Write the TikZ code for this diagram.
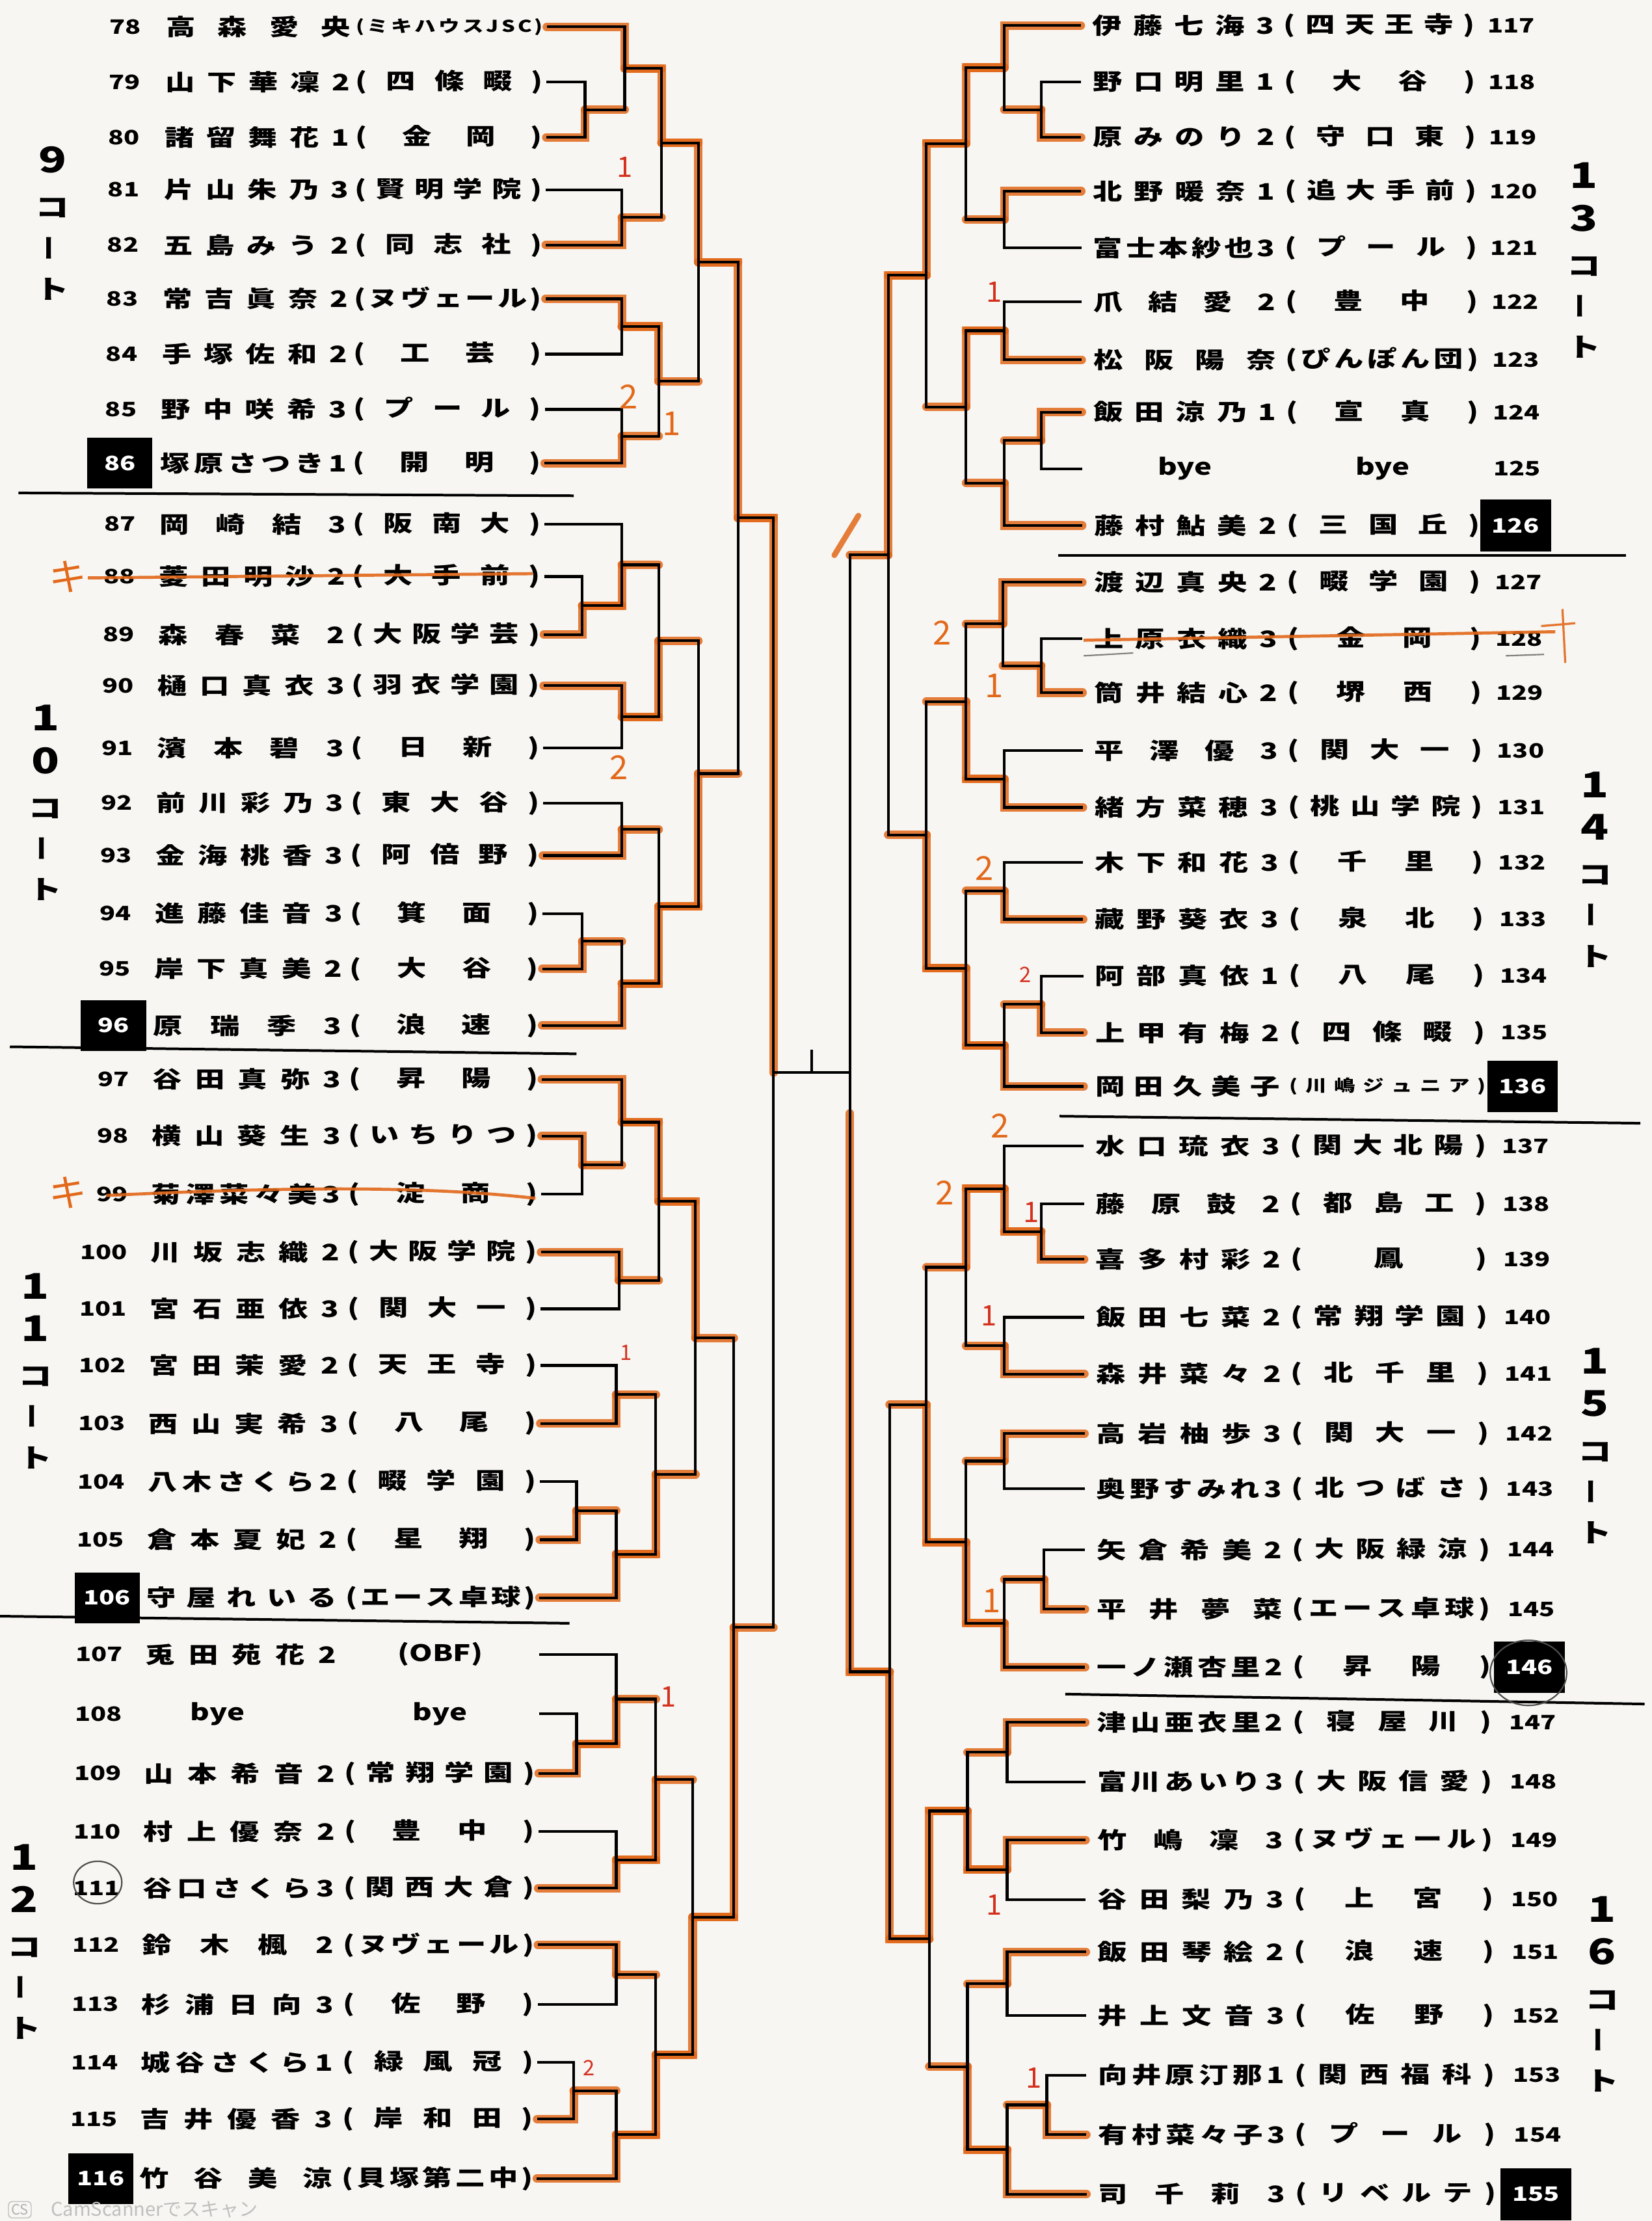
\documentclass[tikz,border=0pt]{standalone}
\usepackage{fontspec}
\usepackage{graphicx}
\setmainfont{Noto Sans CJK JP}
\usetikzlibrary{calc}

\pgfdeclarelayer{paper}
\pgfdeclarelayer{marker}
\pgfsetlayers{paper,marker,main}

\definecolor{paper}{RGB}{247,246,242}
\definecolor{mk}{RGB}{226,104,26}
\definecolor{pen}{RGB}{212,48,30}

\newcommand\cfont{\fontsize{6.9}{8}\selectfont}
\newcommand\wide[1]{\scalebox{1.3}[1]{#1}}

\ExplSyntaxOn
\cs_new_protected:Npn \sheet_spread:nn #1#2
  { \hbox_to_wd:nn {#1} { \tl_map_inline:nn {#2} { \wide{##1} \hfil } \unskip } }
\cs_new_protected:Npn \sheet_field:nn #1#2
  {
    \tl_if_head_eq_meaning:nNTF {#2} \cfont
      { \cfont \exp_args:Nnx \sheet_spread:nn {#1} { \tl_tail:n {#2} } }
      { \sheet_spread:nn {#1} {#2} }
  }
\NewDocumentCommand \spread { m m } { \exp_args:Nno \sheet_field:nn {#1} {#2} }
\ExplSyntaxOff

\makeatletter
\newcommand\hlin[2]{\expandafter\ifx\@car#1\@nil e\else
  \begin{pgfonlayer}{marker}\draw[hl] (#1) -- (#2,0 |- #1);\end{pgfonlayer}\fi}
\makeatother

\newcommand\bk[5]{%
  \coordinate (#4m) at ($(#1)!.5!(#2)$);
  \coordinate (#4) at (#3,0 |- #4m);
  \begin{pgfonlayer}{marker}
    \ifcase#5\or\draw[hl] (#1) -| (#4);\or\draw[hl] (#2) -| (#4);\fi
  \end{pgfonlayer}
  \hlin{#1}{#3}\hlin{#2}{#3}
  \draw[br] (#1) -| (#4) |- (#2);}

\newcommand\court[4]{%
  \foreach \d [count=\i from 0] in {#3}{
    \node[ctd] (#4-\i) at (#1,{#2+30*\i}) {\wide{\d}};
    \global\let\clast\i}
  \node[ctk] (#4-ko) at (#1,{#2+30*\clast+34}) {\wide{コ}};
  \node[ctk] (#4-bo) at (#1,{#2+30*\clast+62}) {\rotatebox{90}{ー}};
  \node[ctk] (#4-to) at (#1,{#2+30*\clast+91}) {\wide{ト}};}

\begin{document}
\begin{tikzpicture}[x=0.6pt, y=-0.6pt,
  br/.style={line width=1.15pt, black},
  hl/.style={line width=3.6pt, mk, opacity=.85, line cap=round},
  nm/.style={anchor=west, inner sep=0pt, font=\fontsize{9.6}{10}\selectfont\bfseries},
  Lplain/.style={anchor=east, inner sep=0pt, font=\fontsize{8.4}{9}\selectfont\bfseries},
  Lbox/.style={Lplain, fill=black, text=white, minimum width=27.6pt, minimum height=21.6pt, xshift=6.9pt},
  Rplain/.style={anchor=west, inner sep=0pt, font=\fontsize{8.4}{9}\selectfont\bfseries},
  Rbox/.style={Rplain, fill=black, text=white, minimum width=30pt, minimum height=22pt, xshift=-6pt},
  divider/.style={line width=1.1pt},
  ctd/.style={inner sep=0pt, font=\fontsize{15}{15}\selectfont\bfseries},
  ctk/.style={inner sep=0pt, font=\fontsize{11}{11}\selectfont\bfseries},
  pen/.style={inner sep=0pt, text=pen, font=\fontsize{12}{12}\selectfont},
  pen2/.style={pen, text=mk, font=\fontsize{14}{14}\selectfont},
  strike/.style={mk, line width=1.3pt, opacity=.9}]

\useasboundingbox (0,0) rectangle (1166,1568);
\begin{pgfonlayer}{paper}
  \fill[paper] (0,0) rectangle (1166,1568);
\end{pgfonlayer}

\foreach \n/\y/\nm/\sc/\k in {
  78/19/高森愛央/\cfont(ミキハウスJSC)/plain,
  79/58/山下華凜2/(四條畷)/plain,
  80/97/諸留舞花1/(金岡)/plain,
  81/134/片山朱乃3/(賢明学院)/plain,
  82/173/五島みう2/(同志社)/plain,
  83/211/常吉眞奈2/(ヌヴェール)/plain,
  84/250/手塚佐和2/(工芸)/plain,
  85/289/野中咲希3/(プール)/plain,
  86/327/塚原さつき1/(開明)/box,
  87/370/岡崎結3/(阪南大)/plain,
  88/407/菱田明沙2/(大手前)/plain,
  89/448/森春菜2/(大阪学芸)/plain,
  90/484/樋口真衣3/(羽衣学園)/plain,
  91/528/濱本碧3/(日新)/plain,
  92/567/前川彩乃3/(東大谷)/plain,
  93/604/金海桃香3/(阿倍野)/plain,
  94/645/進藤佳音3/(箕面)/plain,
  95/684/岸下真美2/(大谷)/plain,
  96/724/原瑞季3/(浪速)/box,
  97/762/谷田真弥3/(昇陽)/plain,
  98/802/横山葵生3/(いちりつ)/plain,
  99/843/菊澤菜々美3/(淀商)/plain,
  100/884/川坂志織2/(大阪学院)/plain,
  101/924/宮石亜依3/(関大一)/plain,
  102/964/宮田茉愛2/(天王寺)/plain,
  103/1005/西山実希3/(八尾)/plain,
  104/1046/八木さくら2/(畷学園)/plain,
  105/1087/倉本夏妃2/(星翔)/plain,
  106/1128/守屋れいる/(エース卓球)/box,
  107/1168/兎田苑花2/{}{(OBF)}{}/plain,
  108/1210/{}{bye}{}{}/{}{bye}{}/plain,
  109/1252/山本希音2/(常翔学園)/plain,
  110/1293/村上優奈2/(豊中)/plain,
  111/1333/谷口さくら3/(関西大倉)/plain,
  112/1373/鈴木楓2/(ヌヴェール)/plain,
  113/1415/杉浦日向3/(佐野)/plain,
  114/1456/城谷さくら1/(緑風冠)/plain,
  115/1496/吉井優香3/(岸和田)/plain,
  116/1538/竹谷美涼/(貝塚第二中)/box}{
  \pgfmathsetmacro\t{(\n-78)/38}
  \pgfmathsetlengthmacro\wn{(130+6*\t)*0.6pt}
  \pgfmathsetlengthmacro\ws{(132+3*\t)*0.6pt}
  \node[L\k] (no\n) at ({100-17*\t},\y) {\wide{\n}};
  \node[nm] (nm\n) at ({117-19*\t},\y) {\spread{\wn}{\nm}};
  \node[nm] (sc\n) at ({251-10*\t},\y) {\spread{\ws}{\sc}};
  \coordinate (e\n) at ({386-7*\t},\y);
}

\foreach \n/\y/\nm/\sc/\k in {
  117/18/伊藤七海3/(四天王寺)/plain,
  118/58/野口明里1/(大谷)/plain,
  119/97/原みのり2/(守口東)/plain,
  120/135/北野暖奈1/(追大手前)/plain,
  121/175/富士本紗也3/(プール)/plain,
  122/213/爪結愛2/(豊中)/plain,
  123/254/松阪陽奈/(ぴんぽん団)/plain,
  124/291/飯田涼乃1/(宣真)/plain,
  125/331/{}{bye}{}/{}{bye}{}/plain,
  126/371/藤村鮎美2/(三国丘)/box,
  127/411/渡辺真央2/(畷学園)/plain,
  128/451/上原衣織3/(金岡)/plain,
  129/489/筒井結心2/(堺西)/plain,
  130/530/平澤優3/(関大一)/plain,
  131/570/緒方菜穂3/(桃山学院)/plain,
  132/609/木下和花3/(千里)/plain,
  133/649/藏野葵衣3/(泉北)/plain,
  134/689/阿部真依1/(八尾)/plain,
  135/729/上甲有梅2/(四條畷)/plain,
  136/767/岡田久美子/\cfont(川嶋ジュニア)/box,
  137/809/水口琉衣3/(関大北陽)/plain,
  138/850/藤原鼓2/(都島工)/plain,
  139/889/喜多村彩2/(鳳)/plain,
  140/930/飯田七菜2/(常翔学園)/plain,
  141/970/森井菜々2/(北千里)/plain,
  142/1012/高岩柚歩3/(関大一)/plain,
  143/1051/奥野すみれ3/(北つばさ)/plain,
  144/1094/矢倉希美2/(大阪緑涼)/plain,
  145/1136/平井夢菜/(エース卓球)/plain,
  146/1177/一ノ瀬杏里2/(昇陽)/box,
  147/1216/津山亜衣里2/(寝屋川)/plain,
  148/1258/富川あいり3/(大阪信愛)/plain,
  149/1299/竹嶋凜3/(ヌヴェール)/plain,
  150/1341/谷田梨乃3/(上宮)/plain,
  151/1378/飯田琴絵2/(浪速)/plain,
  152/1423/井上文音3/(佐野)/plain,
  153/1465/向井原汀那1/(関西福科)/plain,
  154/1507/有村菜々子3/(プール)/plain,
  155/1549/司千莉3/(リベルテ)/box}{
  \pgfmathsetmacro\t{(\n-117)/38}
  \pgfmathsetlengthmacro\wn{(128+4*\t)*0.6pt}
  \pgfmathsetlengthmacro\ws{(135+7*\t)*0.6pt}
  \node[R\k] (no\n) at ({1050+19*\t},\y) {\wide{\n}};
  \node[nm] (nm\n) at ({771+4*\t},\y) {\spread{\wn}{\nm}};
  \node[nm] (sc\n) at ({906+8*\t},\y) {\spread{\ws}{\sc}};
  \coordinate (e\n) at ({763+4*\t},\y);
}

\bk{e79}{e80}{413}{mA1}{2}
\bk{e78}{mA1}{441}{mA2}{1}
\bk{e81}{e82}{439}{mA3}{2}
\bk{mA2}{mA3}{467}{mA4}{1}
\bk{e83}{e84}{439}{mA5}{1}
\bk{e85}{e86}{439}{mA6}{2}
\bk{mA5}{mA6}{465}{mA7}{1}
\bk{mA4}{mA7}{493}{mA}{1}
\bk{e88}{e89}{411}{mB1}{2}
\bk{e87}{mB1}{439}{mB2}{2}
\bk{e90}{e91}{439}{mB3}{1}
\bk{mB2}{mB3}{465}{mB4}{2}
\bk{e92}{e93}{439}{mB5}{2}
\bk{e94}{e95}{411}{mB6}{2}
\bk{mB6}{e96}{439}{mB7}{2}
\bk{mB5}{mB7}{465}{mB8}{2}
\bk{mB4}{mB8}{493}{mB}{2}
\bk{mA}{mB}{521}{mAB}{1}
\bk{e98}{e99}{411}{mC1}{1}
\bk{e97}{mC1}{439}{mC2}{1}
\bk{e100}{e101}{437}{mC3}{1}
\bk{mC2}{mC3}{465}{mC4}{1}
\bk{e102}{e103}{435}{mC5}{2}
\bk{e104}{e105}{407}{mC6}{2}
\bk{mC6}{e106}{435}{mC7}{2}
\bk{mC5}{mC7}{463}{mC8}{2}
\bk{mC4}{mC8}{491}{mC}{1}
\bk{e108}{e109}{407}{mD1}{2}
\bk{e107}{mD1}{435}{mD2}{2}
\bk{e110}{e111}{435}{mD3}{2}
\bk{mD2}{mD3}{463}{mD4}{2}
\bk{e112}{e113}{435}{mD5}{1}
\bk{e114}{e115}{405}{mD6}{2}
\bk{mD6}{e116}{435}{mD7}{2}
\bk{mD5}{mD7}{463}{mD8}{2}
\bk{mD4}{mD8}{489}{mD}{2}
\bk{mC}{mD}{518}{mCD}{2}
\bk{mAB}{mCD}{546}{sL}{1}

\bk{e118}{e119}{735}{mE1}{2}
\bk{e117}{mE1}{709}{mE2}{1}
\bk{e120}{e121}{709}{mE3}{1}
\bk{mE2}{mE3}{682}{mE4}{1}
\bk{e122}{e123}{709}{mE5}{2}
\bk{e124}{e125}{735}{mE6}{1}
\bk{mE6}{e126}{709}{mE7}{2}
\bk{mE5}{mE7}{682}{mE8}{1}
\bk{mE4}{mE8}{654}{mE}{1}
\bk{e128}{e129}{735}{mF1}{2}
\bk{e127}{mF1}{708}{mF2}{1}
\bk{e130}{e131}{709}{mF3}{2}
\bk{mF2}{mF3}{682}{mF4}{2}
\bk{e132}{e133}{709}{mF5}{2}
\bk{e134}{e135}{735}{mF6}{2}
\bk{mF6}{e136}{709}{mF7}{2}
\bk{mF5}{mF7}{682}{mF8}{2}
\bk{mF4}{mF8}{654}{mF}{2}
\bk{mE}{mF}{627}{mEF}{1}
\bk{e138}{e139}{735}{mG1}{2}
\bk{e137}{mG1}{709}{mG2}{2}
\bk{e140}{e141}{709}{mG3}{2}
\bk{mG2}{mG3}{682}{mG4}{1}
\bk{e142}{e143}{709}{mG5}{1}
\bk{e144}{e145}{737}{mG6}{2}
\bk{mG6}{e146}{709}{mG7}{2}
\bk{mG5}{mG7}{682}{mG8}{2}
\bk{mG4}{mG8}{654}{mG}{2}
\bk{e147}{e148}{711}{mH1}{1}
\bk{e149}{e150}{711}{mH2}{1}
\bk{mH1}{mH2}{683}{mH3}{2}
\bk{e151}{e152}{711}{mH4}{1}
\bk{e153}{e154}{739}{mH5}{2}
\bk{mH5}{e155}{711}{mH6}{2}
\bk{mH4}{mH6}{683}{mH7}{2}
\bk{mH3}{mH7}{656}{mH}{1}
\bk{mG}{mH}{628}{mGH}{2}
\bk{mEF}{mGH}{600}{sR}{2}

\coordinate (fin) at ($(sL)!.5!(sR |- sL)$);
\draw[br] (sL) -- (sR |- sL);
\draw[br] (fin) -- ++(0,-16);

\draw[divider] (13,348) -- (405,350);
\draw[divider] (7,739) -- (407,744);
\draw[divider] (0,1141) -- (402,1146);
\draw[divider] (747,392) -- (1148,392);
\draw[divider] (748,788) -- (1158,793);
\draw[divider] (752,1196) -- (1161,1203);

\court{37}{113}{9}{c9}
\court{32}{507}{1,0}{c10}
\court{25}{908}{1,1}{c11}
\court{17}{1311}{1,2}{c12}
\court{1118}{124}{1,3}{c13}
\court{1126}{554}{1,4}{c14}
\court{1126}{961}{1,5}{c15}
\court{1131}{1348}{1,6}{c16}

\draw[strike] (62,408) -- (376,405);
\draw[strike] (75,844) .. controls (200,838) and (300,837) .. (378,846);
\draw[strike] (765,452) -- (1098,446);
\draw[strike, line width=.9pt] (1088,442) -- (1112,440) (1103,430) -- (1105,468);
\draw[gray, line width=.6pt] (765,463) -- (800,461) (1063,463) -- (1090,462);
\draw[hl, line width=2.4pt] (589,392) -- (606,364);
\draw[black!70, line width=.6pt] (69,1329) ellipse [x radius=17, y radius=15];
\draw[black!70, line width=.6pt] (1079,1181) ellipse [x radius=27, y radius=23];

\node[pen2, font=\fontsize{16}{16}\selectfont] (k88) at (48,407) {キ};
\node[pen2, font=\fontsize{16}{16}\selectfont] (k99) at (48,842) {キ};
\node[pen] (w1) at (441,118) {1};
\node[pen2] (w2) at (444,280) {2};
\node[pen2] (w3) at (474,299) {1};
\node[pen2] (w4) at (437,542) {2};
\node[pen, font=\fontsize{9}{9}\selectfont] (w5) at (442,955) {1};
\node[pen] (w6) at (472,1198) {1};
\node[pen, font=\fontsize{9}{9}\selectfont] (w7) at (416,1460) {2};
\node[pen] (w8) at (702,206) {1};
\node[pen2] (w9) at (665,447) {2};
\node[pen2] (w10) at (702,484) {1};
\node[pen2] (w11) at (695,613) {2};
\node[pen, font=\fontsize{9}{9}\selectfont] (w12) at (724,688) {2};
\node[pen2] (w13) at (706,795) {2};
\node[pen2] (w14) at (667,842) {2};
\node[pen] (w15) at (728,856) {1};
\node[pen] (w16) at (698,929) {1};
\node[pen2] (w17) at (700,1130) {1};
\node[pen] (w18) at (702,1345) {1};
\node[pen] (w19) at (730,1467) {1};

\node[draw=black!25, text=black!30, rounded corners=1.5pt, inner sep=1.2pt, font=\fontsize{6}{6}\selectfont] (cs) at (14,1560) {CS};
\node[anchor=west, text=black!25, font=\fontsize{8}{8}\selectfont] (csx) at (30,1560) {CamScannerでスキャン};
\end{tikzpicture}
\end{document}
